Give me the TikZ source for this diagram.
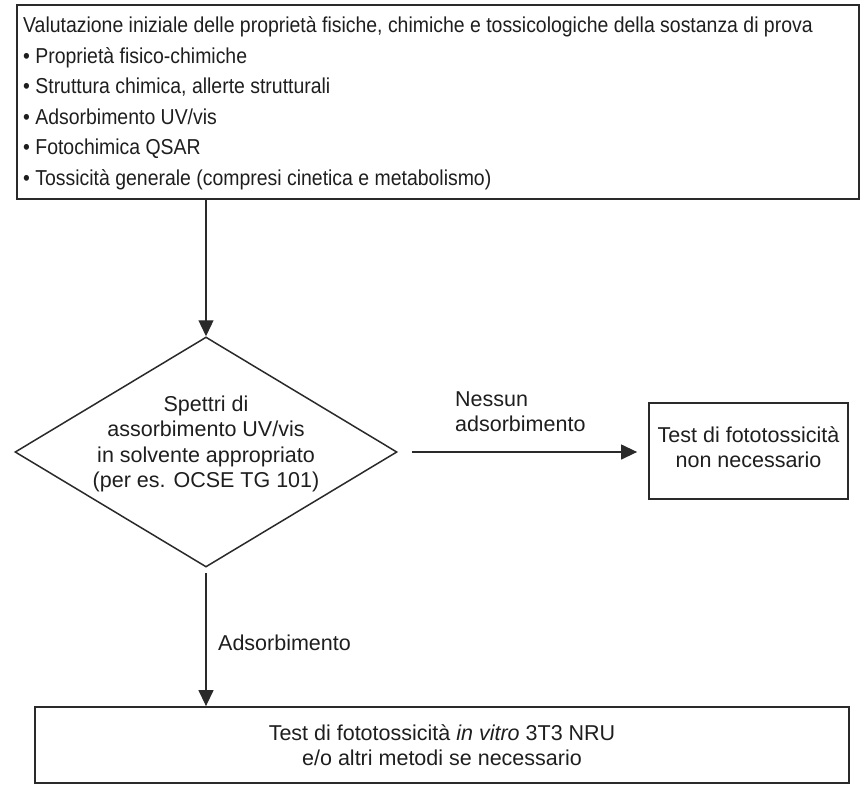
\documentclass[tikz,border=0pt]{standalone}
\usepackage{fontspec}
\setmainfont{Liberation Sans}
\newfontfamily\narrowsans[FakeStretch=0.9]{Liberation Sans}
\usetikzlibrary{shapes.geometric,arrows.meta}
\definecolor{ln}{HTML}{2A2A2A}
\definecolor{tx}{HTML}{1E1E1E}
\tikzset{
  boxnode/.style={draw=ln, line width=1.8pt, inner sep=0pt},
  toptxt/.style={anchor=base west, inner sep=0pt, text=tx, font=\narrowsans\fontsize{21.6}{24}\selectfont},
  midtxt/.style={inner sep=0pt, text=tx, align=center, font=\fontsize{21.5}{25.3}\selectfont},
  lbltxt/.style={inner sep=0pt, text=tx, align=left, font=\fontsize{21.5}{25}\selectfont},
  arr/.style={draw=ln, line width=1.3pt, -{Triangle[length=16pt,width=15pt]}}
}
\begin{document}
\begin{tikzpicture}[x=1pt,y=-1pt]
\useasboundingbox (0,0) rectangle (866,787);
% top box
\node[boxnode, anchor=north west, minimum width=842pt, minimum height=194pt] (top) at (16,4) {};
\node[toptxt] (t0) at (23,32.5) {Valutazione iniziale delle proprietà fisiche, chimiche e tossicologiche della sostanza di prova};
\node[toptxt] (t1) at (23,63) {• Proprietà fisico-chimiche};
\node[toptxt] (t2) at (23,93.5) {• Struttura chimica, allerte strutturali};
\node[toptxt] (t3) at (23,124) {• Adsorbimento UV/vis};
\node[toptxt] (t4) at (23,154.5) {• Fotochimica QSAR};
\node[toptxt] (t5) at (23,185) {• Tossicità generale (compresi cinetica e metabolismo)};
% diamond
\node[diamond, draw=ln, line width=1.5pt, inner sep=0pt, minimum width=382pt, minimum height=230pt] (dia) at (206,452) {};
\node[midtxt] (dtext) at (206,444) {Spettri di\\assorbimento UV/vis\\in solvente appropriato\\(per es. OCSE TG 101)};
% right box
\node[boxnode, minimum width=199pt, minimum height=96pt] (rbox) at (748.5,451) {};
\node[midtxt] (rtext) at (748.5,447.5) {Test di fototossicità\\non necessario};
% bottom box
\node[boxnode, minimum width=814pt, minimum height=76pt] (bbox) at (442,745) {};
\node[midtxt] (btext) at (442,745) {Test di fototossicità \textit{in vitro} 3T3 NRU\\e/o altri metodi se necessario};
% connectors
\draw[arr] (dia.north |- top.south) -- (dia.north);
\draw[arr, shorten <=14pt, shorten >=11pt] (dia.east) -- (rbox.west |- dia.east);
\draw[arr, shorten <=5pt] (dia.south) -- (dia.south |- bbox.north);
% labels
\node[lbltxt, anchor=west] (lno) at (455,412) {Nessun\\adsorbimento};
\node[lbltxt, anchor=west] (lyes) at (218,643) {Adsorbimento};
\end{tikzpicture}
\end{document}
